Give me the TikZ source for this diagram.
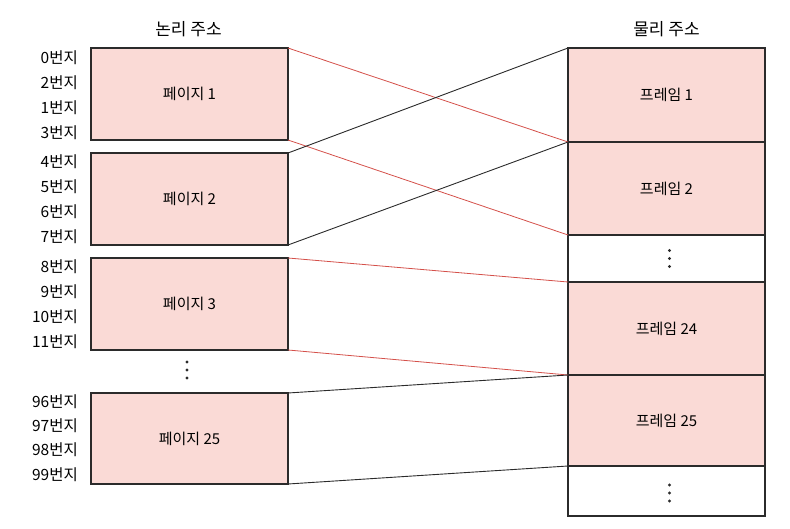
\documentclass[tikz,border=0pt]{standalone}
\usepackage{fontspec}
\setmainfont{Noto Sans CJK KR}
\usetikzlibrary{positioning}

\definecolor{pagefill}{HTML}{FADAD6}
\definecolor{linkred}{HTML}{D4504A}
\definecolor{ink}{HTML}{2B2B2B}

\tikzset{
  mem/.style={draw=ink, line width=1.2pt, fill=pagefill, minimum width=197pt,
    minimum height=92pt, inner sep=0pt, outer sep=0pt,
    font=\fontsize{15}{18}\selectfont},
  emptymem/.style={mem, fill=white},
  addr/.style={anchor=east, inner sep=0pt, font=\fontsize{15.5}{18}\selectfont},
  colhead/.style={font=\fontsize{17}{20}\selectfont},
  redlink/.style={draw=linkred, line width=0.8pt},
  blacklink/.style={draw=ink, line width=0.9pt},
  dotsmark/.style={inner sep=0pt, minimum width=6pt, minimum height=20pt}
}

\begin{document}
\begin{tikzpicture}[x=1pt,y=1pt]
    \useasboundingbox (0,0) rectangle (790,-529);

    % logical side
    \node[colhead] (lhead) at (188.5,-29) {논리 주소};
    \node[mem] (p1) at (189.5,-94) {페이지 1};
    \node[mem] (p2) at (189.5,-199) {페이지 2};
    \node[mem] (p3) at (189.5,-304) {페이지 3};
    \node[dotsmark] (ldots) at (187,-370) {};
    \node[mem, minimum height=91pt] (p25) at (189.5,-438.5) {페이지 25};

    \foreach \n/\y in {0/58,2/83,1/108,3/133,4/162,5/187,6/212,7/237,
                       8/267,9/292,10/317,11/342,96/402,97/426,98/450,99/475}
        \node[addr] (a\n) at (78,-\y) {{\n}번지};

    % physical side
    \node[colhead] (phead) at (666.5,-29) {물리 주소};
    \node[mem, minimum height=94pt] (f1) at (666.5,-95) {프레임 1};
    \node[mem, minimum height=93pt, below=0pt of f1] (f2) {프레임 2};
    \node[emptymem, minimum height=47pt, below=0pt of f2] (fd1) {};
    \node[mem, minimum height=93pt, below=0pt of fd1] (f24) {프레임 24};
    \node[mem, minimum height=91pt, below=0pt of f24] (f25) {프레임 25};
    \node[emptymem, minimum height=50pt, below=0pt of f25] (fd2) {};

    % the three dots
    \foreach \d in {-8,0,8} {
        \fill[ink] ([yshift=\d pt]ldots.center) circle (1.6pt);
        \fill[ink] ([xshift=3pt,yshift=\d pt]fd1.center) circle (1.6pt);
        \fill[ink] ([xshift=3pt,yshift=\d pt-2pt]fd2.center) circle (1.6pt);
    }

    % page to frame links
    \draw[redlink] (p1.north east) -- (f2.north west);
    \draw[redlink] (p1.south east) -- (f2.south west);
    \draw[blacklink] (p2.north east) -- (f1.north west);
    \draw[blacklink] (p2.south east) -- (f1.south west);
    \draw[redlink] (p3.north east) -- (f24.north west);
    \draw[redlink] (p3.south east) -- (f24.south west);
    \draw[blacklink] (p25.north east) -- (f25.north west);
    \draw[blacklink] (p25.south east) -- (f25.south west);
\end{tikzpicture}
\end{document}
